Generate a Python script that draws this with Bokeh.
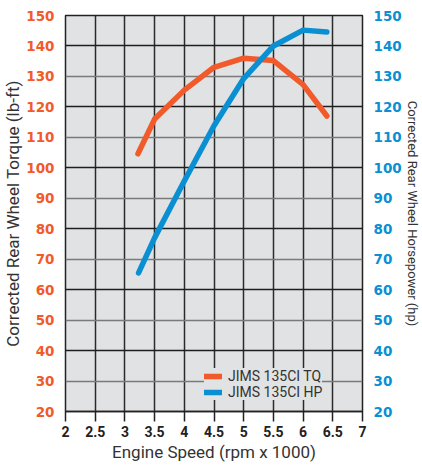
from bokeh.plotting import figure
from bokeh.models import Range1d, LinearAxis, FixedTicker, Grid, Legend, LegendItem
from bokeh.embed import file_html
from bokeh.resources import INLINE

rpm = [3.22, 3.5, 4.0, 4.5, 5.0, 5.5, 6.0, 6.4]
torque = [104.6, 116.0, 125.5, 133.0, 136.0, 135.2, 127.3, 117.0]
hp_rpm = [3.23, 3.5, 4.0, 4.5, 5.0, 5.5, 6.0, 6.4]
horsepower = [65.5, 77.0, 95.7, 113.8, 129.3, 140.0, 145.2, 144.6]
x_ticks = [2, 2.5, 3, 3.5, 4, 4.5, 5, 5.5, 6, 6.5, 7]
y_ticks = [20, 30, 40, 50, 60, 70, 80, 90, 100, 110, 120, 130, 140, 150]

ORANGE = "#f15a2b"
BLUE = "#0b8fd3"
FONT = "Roboto"
TICK_FONT = "DejaVu Sans"
TITLE_SIZE = "17px"

p = figure(width=422, height=465, output_backend="svg", toolbar_location=None,
           x_range=Range1d(2, 7), y_range=Range1d(20, 150),
           min_border_left=63, min_border_right=46, min_border_top=15, min_border_bottom=54)
p.extra_y_ranges = {"hp": Range1d(20, 150)}
p.border_fill_color = "white"
p.background_fill_color = "#e1e2e4"
p.outline_line_color = "#222222"
p.outline_line_width = 1.5

# x axis
p.xaxis.ticker = FixedTicker(ticks=x_ticks)
p.xaxis.axis_label = "Engine Speed (rpm x 1000)"
p.xaxis.axis_label_text_font = FONT
p.xaxis.axis_label_text_font_style = "normal"
p.xaxis.axis_label_text_font_size = TITLE_SIZE
p.xaxis.axis_label_text_color = "#333333"
p.xaxis.axis_label_standoff = 2
p.xaxis.major_label_text_font = FONT
p.xaxis.major_label_text_font_style = "bold"
p.xaxis.major_label_text_font_size = "14px"
p.xaxis.major_label_text_color = "#222222"
p.xaxis.major_label_standoff = 4
p.xaxis.major_tick_out = 10
p.xaxis.major_tick_in = 0
p.xaxis.major_tick_line_color = "#222222"
p.xaxis.major_tick_line_width = 1.5
p.xaxis.minor_tick_line_color = None
p.xaxis.axis_line_color = "#222222"
p.xaxis.axis_line_width = 1.5

# left axis
p.yaxis.ticker = FixedTicker(ticks=y_ticks)
p.yaxis.axis_label = "Corrected Rear Wheel Torque (lb-ft)"
p.yaxis.axis_label_text_font = FONT
p.yaxis.axis_label_text_font_style = "normal"
p.yaxis.axis_label_text_font_size = TITLE_SIZE
p.yaxis.axis_label_text_color = "#333333"
p.yaxis.axis_label_standoff = 0
p.yaxis.major_label_text_font = TICK_FONT
p.yaxis.major_label_text_font_style = "bold"
p.yaxis.major_label_text_font_size = "13.5px"
p.yaxis.major_label_text_color = ORANGE
p.yaxis.major_tick_line_color = None
p.yaxis.minor_tick_line_color = None
p.yaxis.axis_line_color = None
p.yaxis.major_label_standoff = 5

# right axis
ra = LinearAxis(y_range_name="hp", ticker=FixedTicker(ticks=y_ticks),
                axis_label="Corrected Rear Wheel Horsepower (hp)")
ra.axis_label_text_font = FONT
ra.axis_label_text_font_style = "normal"
ra.axis_label_text_font_size = "13px"
ra.axis_label_text_color = "#333333"
ra.axis_label_standoff = 0
ra.major_label_text_font = TICK_FONT
ra.major_label_text_font_style = "bold"
ra.major_label_text_font_size = "13.5px"
ra.major_label_text_color = BLUE
ra.major_tick_line_color = None
ra.minor_tick_line_color = None
ra.axis_line_color = None
ra.major_label_standoff = 5
p.add_layout(ra, "right")

# grids
p.xgrid.ticker = FixedTicker(ticks=x_ticks)
p.xgrid.grid_line_color = "#2a2a2a"
p.xgrid.grid_line_width = 1.5
p.ygrid.ticker = FixedTicker(ticks=[40, 60, 80, 100, 120, 140])
p.ygrid.grid_line_color = "#1e1e1e"
p.ygrid.grid_line_width = 1.5
g2 = Grid(dimension=1, ticker=FixedTicker(ticks=[20, 30, 50, 70, 90, 110, 130]),
          grid_line_color="#7a7a7a", grid_line_width=1.5)
p.add_layout(g2, "center")

r_tq = p.line(rpm, torque, line_color=ORANGE, line_width=5.5, line_cap="round", line_join="round")
r_hp = p.line(hp_rpm, horsepower, line_color=BLUE, line_width=5.5, line_cap="round", line_join="round",
              y_range_name="hp")

legend = Legend(items=[LegendItem(label="JIMS 135CI TQ", renderers=[r_tq]),
                       LegendItem(label="JIMS 135CI HP", renderers=[r_hp])],
                location=(139, 11))
legend.background_fill_color = "#e1e2e4"
legend.background_fill_alpha = 1
legend.border_line_color = None
legend.label_text_font = FONT
legend.label_text_font_size = "14px"
legend.label_text_color = "#333333"
legend.glyph_width = 18
legend.glyph_height = 12
legend.spacing = 0
legend.padding = 5
legend.margin = 0
legend.label_standoff = 6
legend.label_height = 15
p.add_layout(legend, "center")

open("out.html", "w").write(file_html(p, INLINE))
